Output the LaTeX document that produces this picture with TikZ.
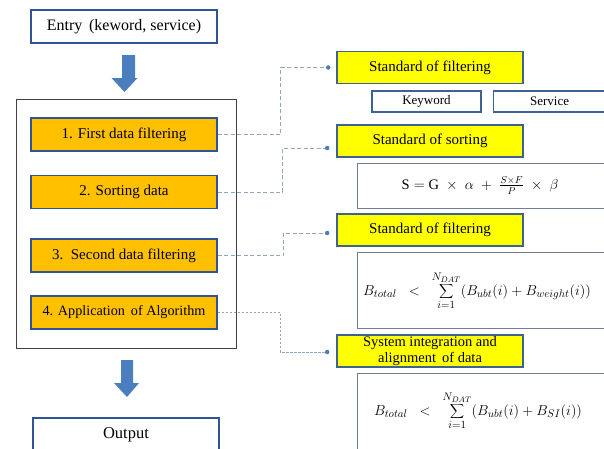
\documentclass[tikz,border=0pt]{standalone}
\usepackage{fontspec}
\setmainfont{Liberation Serif}
\usetikzlibrary{calc}
\definecolor{orangefill}{HTML}{FFC000}
\definecolor{boxblue}{HTML}{2F5597}
\definecolor{yellowfill}{HTML}{FFFF00}
\definecolor{yborder}{HTML}{3F6390}
\definecolor{arrowblue}{HTML}{4A7EBF}
\definecolor{connblue}{HTML}{8EA6C4}
\definecolor{dotblue}{HTML}{4A7EBB}
\definecolor{formborder}{HTML}{6F7F96}
\begin{document}
\begin{tikzpicture}[x=1pt,y=-1pt,
  whitebox/.style={draw=boxblue,line width=1.6pt,fill=white,inner sep=0pt},
  orangebox/.style={draw=boxblue,line width=1.6pt,fill=orangefill,minimum width=186pt,minimum height=33pt,inner sep=0pt,font=\fontsize{15}{17}\selectfont},
  yellowbox/.style={draw=yborder,line width=1.6pt,fill=yellowfill,minimum width=186pt,minimum height=32pt,inner sep=0pt,font=\fontsize{15}{17}\selectfont},
  smallbox/.style={draw=yborder,line width=1.3pt,fill=white,minimum height=21pt,inner sep=0pt,font=\fontsize{13}{15}\selectfont},
  formbox/.style={draw=formborder,line width=0.9pt,fill=white,inner sep=0pt},
  conn/.style={draw=connblue,line width=1pt,dash pattern=on 4pt off 2.5pt},
  conndot/.style={draw=connblue,line width=1pt,dash pattern=on 2.5pt off 1.5pt},
  dotmark/.style={fill=dotblue,draw=none,circle,inner sep=0pt,minimum size=4.5pt},
  blockarrow/.style={fill=arrowblue,draw=none}
]
\useasboundingbox (0,0) rectangle (604,448);
\clip (0,0) rectangle (604,448);

% left column
\node[whitebox,minimum width=186pt,minimum height=33pt,font=\fontsize{16}{18}\selectfont] (entry) at (124,26.5) {Entry\, (keword, service)};
\node[draw=black!75,line width=0.9pt,fill=white,minimum width=220pt,minimum height=249pt,inner sep=0pt] (main) at (126,223.5) {};
\node[orangebox] (o1) at (124,134.5) {1. First data filtering};
\node[orangebox] (o2) at (124,192) {2. Sorting data};
\node[orangebox] (o3) at (124,255.5) {3.\, Second data filtering};
\node[orangebox,font=\fontsize{14.2}{16}\selectfont] (o4) at (124,312.5) {4. Application\, of Algorithm};
\node[whitebox,minimum width=186pt,minimum height=40pt,anchor=north] (out) at (126,417) {};
\node[font=\fontsize{16.5}{18}\selectfont] (outtext) at (126,435) {Output};

% block arrows
\fill[blockarrow] (122,55) -- (135,55) -- (135,78) -- (137.5,78) -- (124.5,92) -- (111.5,78) -- (122,78) -- cycle;
\fill[blockarrow] (121,360) -- (133,360) -- (133,383) -- (139,383) -- (127,397) -- (114,383) -- (121,383) -- cycle;

% right column
\node[yellowbox] (y1) at (430,67.5) {Standard of filtering};
\node[smallbox,minimum width=109pt] (kw) at (426.5,101.5) {Keyword};
\node[smallbox,minimum width=120pt,anchor=west] (sv) at (493,101.5) {\hspace*{-8pt}Service};
\node[yellowbox] (y2) at (430,141) {Standard of sorting};
\node[formbox,minimum width=260pt,minimum height=45pt,anchor=north west] (f1) at (357,163) {};
\node[font=\fontsize{14.5}{16}\selectfont] (f1t) at (480,185.5) {$\mathrm{S}=\mathrm{G}\;\times\;\alpha\;+\;\frac{S\times F}{P}\;\times\;\beta$};
\node[yellowbox] (y3) at (430,230) {Standard of filtering};
\node[formbox,minimum width=260pt,minimum height=76pt,anchor=north west] (f2) at (357,252) {};
\node[font=\fontsize{15.5}{18}\selectfont,inner sep=0pt] (f2t) at (477,291) {$\displaystyle B_{total}\;\;<\;\;\sum_{i=1}^{N_{DAT}}\bigl(B_{ubt}(i)+B_{weight}(i)\bigr)$};
\node[yellowbox,align=center,font=\fontsize{14.5}{17}\selectfont] (y4) at (430,351) {System integration and\\[-1pt]alignment\, of data};
\node[formbox,minimum width=260pt,minimum height=90pt,anchor=north west] (f3) at (357,373) {};
\node[font=\fontsize{15.5}{18}\selectfont,inner sep=0pt] (f3t) at (478,411) {$\displaystyle B_{total}\;\;<\;\;\sum_{i=1}^{N_{DAT}}\bigl(B_{ubt}(i)+B_{SI}(i)\bigr)$};

% dots and connectors
\coordinate (d1) at ($(y1.west)+(-8,0)$);
\coordinate (d2) at ($(y2.west)+(-9,7)$);
\coordinate (d3) at ($(y3.west)+(-9,3)$);
\coordinate (d4) at ($(y4.west)+(-9,1)$);
\draw[conn] (o1.east) -- ++(63,0) |- (d1);
\draw[conn] (o2.east) -- ++(65,0) |- (d2);
\draw[conn] (o3.east) -- ++(66,0) |- (d3);
\draw[conndot] (o4.east) -- ++(63,0) |- (d4);
\node[dotmark] (m1) at (d1) {};
\node[dotmark] (m2) at (d2) {};
\node[dotmark] (m3) at (d3) {};
\node[dotmark] (m4) at (d4) {};
\end{tikzpicture}
\end{document}
